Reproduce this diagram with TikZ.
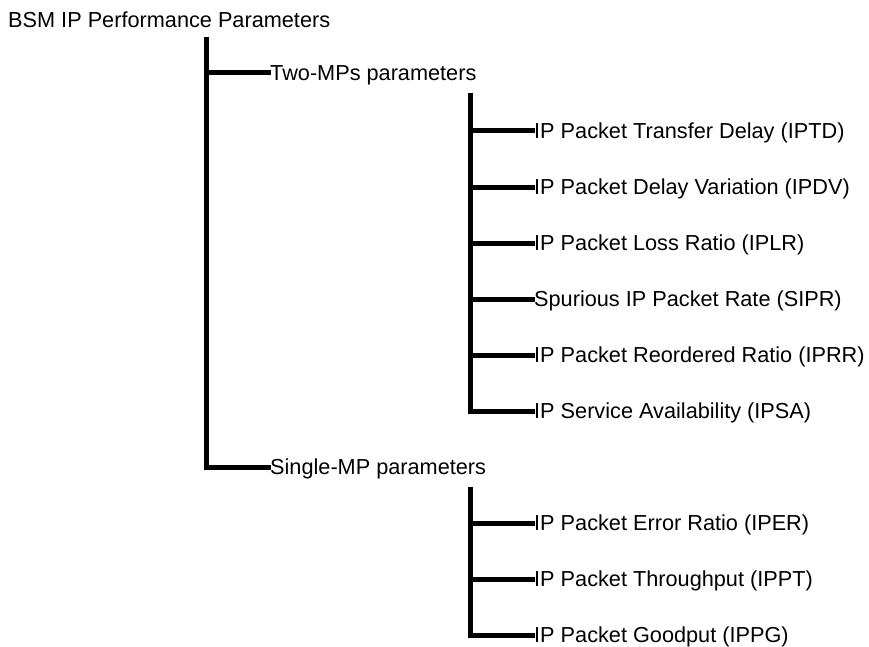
\documentclass[tikz,border=0pt]{standalone}
\usepackage{fontspec}
\setmainfont{Liberation Sans}
\begin{document}
\begin{tikzpicture}[x=1pt,y=-1pt,
  lbl/.style={anchor=west, inner sep=0pt, font=\fontsize{21.7}{24}\selectfont, text height=15.5pt, text depth=0pt},
  conn/.style={line width=5pt, line join=miter, line cap=butt}]
\useasboundingbox (0,0) rectangle (869,647);
% labels
\node[lbl] (root) at (8,20) {BSM IP Performance Parameters};
\node[lbl] (two) at (270,73) {Two-MPs parameters};
\node[lbl] (single) at (270,467) {Single-MP parameters};
\node[lbl] (iptd) at (534,131) {IP Packet Transfer Delay (IPTD)};
\node[lbl] (ipdv) at (534,187) {IP Packet Delay Variation (IPDV)};
\node[lbl] (iplr) at (534,243) {IP Packet Loss Ratio (IPLR)};
\node[lbl] (sipr) at (534,299) {Spurious IP Packet Rate (SIPR)};
\node[lbl] (iprr) at (534,355) {IP Packet Reordered Ratio (IPRR)};
\node[lbl] (ipsa) at (534,411) {IP Service Availability (IPSA)};
\node[lbl] (iper) at (534,523) {IP Packet Error Ratio (IPER)};
\node[lbl] (ippt) at (534,579) {IP Packet Throughput (IPPT)};
\node[lbl] (ippg) at (534,635) {IP Packet Goodput (IPPG)};
% trunk tops
\coordinate (t0) at (206,37);
\coordinate (t1) at (470,93);
\coordinate (t2) at (470,487);
% root tree
\draw[conn] (t0) |- ([xshift=1pt]single.west);
\draw[conn] (t0 |- two.west) -- ([xshift=1pt]two.west);
% two-MPs tree
\draw[conn] (t1) |- ([xshift=1pt]ipsa.west);
\foreach \n in {iptd,ipdv,iplr,sipr,iprr}
  \draw[conn] (t1 |- \n.west) -- ([xshift=1pt]\n.west);
% single-MP tree
\draw[conn] (t2) |- ([xshift=1pt]ippg.west);
\foreach \n in {iper,ippt}
  \draw[conn] (t2 |- \n.west) -- ([xshift=1pt]\n.west);
\end{tikzpicture}
\end{document}
